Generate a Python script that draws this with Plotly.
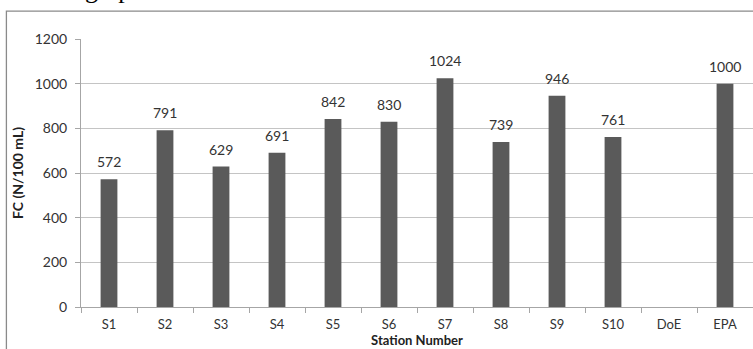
import plotly.graph_objects as go

# Faecal coliform counts per sampling station, with DoE / EPA reference limits
stations = ["S1", "S2", "S3", "S4", "S5", "S6", "S7", "S8", "S9", "S10", "DoE", "EPA"]
fc_values = [572, 791, 629, 691, 842, 830, 1024, 739, 946, 761, None, 1000]
y_ticks = [0, 200, 400, 600, 800, 1000, 1200]

FONT = "Lato, 'Open Sans', Arial, sans-serif"
AXIS_GREY = "#a6a6a6"

fig = go.Figure(
    go.Bar(
        x=stations,
        y=fc_values,
        width=0.3,
        marker=dict(color="#5a5a5a", line=dict(width=0)),
        hoverinfo="x+y",
    )
)

# Value labels above each bar
for name, val in zip(stations, fc_values):
    if val is None:
        continue
    fig.add_annotation(
        x=name, y=val, text=str(val),
        showarrow=False, xanchor="center", yanchor="bottom", yshift=7,
        font=dict(family=FONT, size=14, color="#333333"),
    )

fig.update_layout(
    width=753,
    height=349,
    margin=dict(l=81, r=0, t=39, b=42),
    paper_bgcolor="white",
    plot_bgcolor="white",
    showlegend=False,
    font=dict(family=FONT, size=14, color="#333333"),
    bargap=0.7,
)

fig.update_xaxes(
    type="category",
    showgrid=False,
    showline=True,
    linecolor=AXIS_GREY,
    linewidth=1,
    ticks="outside",
    tickson="boundaries",
    ticklen=5,
    tickcolor=AXIS_GREY,
    ticklabelstandoff=5,
    tickfont=dict(family=FONT, size=13, color="#333333"),
    title=dict(text="<b>Station Number</b>", font=dict(family=FONT, size=13, color="#222222"), standoff=2),
)

fig.update_yaxes(
    range=[0, 1200],
    tickvals=y_ticks,
    showgrid=True,
    gridcolor="#c4c4c4",
    gridwidth=1,
    zeroline=False,
    showline=True,
    linecolor=AXIS_GREY,
    linewidth=1,
    ticks="outside",
    ticklen=5,
    tickcolor=AXIS_GREY,
    ticklabelstandoff=5,
    tickfont=dict(family=FONT, size=14, color="#333333"),
    title=dict(text="<b>FC (N/100 mL)</b>", font=dict(family=FONT, size=14, color="#222222"), standoff=7),
)

# Outer chart frame (extends past the visible page edges)
fig.add_shape(
    type="rect", xref="paper", yref="paper",
    x0=-0.111, x1=1.2, y0=-0.3, y1=1.104,
    line=dict(color="#8a8a8a", width=1.3),
    fillcolor="rgba(0,0,0,0)",
    layer="above",
)

# Caption text from the page above the chart
fig.add_annotation(
    text="graph", xref="paper", yref="paper",
    x=0.0025, y=1.184, xanchor="left", yanchor="middle",
    showarrow=False,
    font=dict(family="Liberation Serif, Times New Roman, serif", size=26, color="#000000"),
)

fig.write_html("out.html")
